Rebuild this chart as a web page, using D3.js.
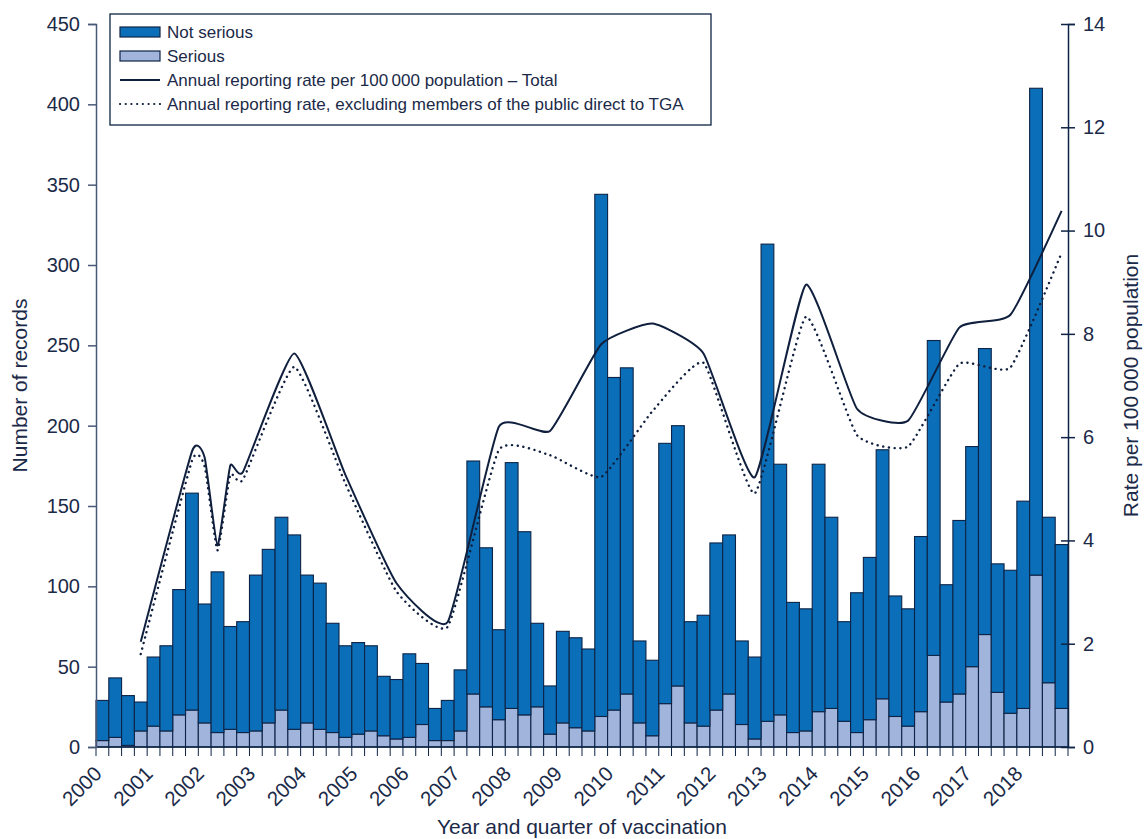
<!DOCTYPE html>
<html>
<head>
<meta charset="utf-8">
<script src="https://cdn.jsdelivr.net/npm/d3@7"></script>
<style>
  body { margin: 0; background: #fff; }
  svg { display: block; font-family: "Liberation Sans", Arial, sans-serif; }
  .axis text { font-size: 20px; fill: #1b2a48; }
  .axis .year-label { font-size: 20.5px; }
  .axis-label { font-size: 21px; fill: #1b2a48; }
  .legend text { font-size: 17px; fill: #1b2a48; }
</style>
</head>
<body>
<div id="chart"></div>
<script>
// Adverse event records by quarter, with annual reporting rates

const years = d3.range(2000, 2019);
const quarters = ['Q1', 'Q2', 'Q3', 'Q4'];
const categories = years.flatMap(y => quarters.map(q => `${y} ${q}`));

// bar series, one value per quarter 2000 Q1 .. 2018 Q4
const serious = [
  4, 6, 1, 10, 13, 10, 20, 23, 15, 9, 11, 9, 10, 15, 23, 11,
  15, 11, 9, 6, 8, 10, 7, 5, 6, 14, 4, 4, 10, 33, 25, 17,
  24, 20, 25, 8, 15, 12, 10, 19, 23, 33, 15, 7, 27, 38, 15, 13,
  23, 33, 14, 5, 16, 20, 9, 10, 22, 24, 16, 9, 17, 30, 19, 13,
  22, 57, 28, 33, 50, 70, 34, 21, 24, 107, 40, 24
];
const notSerious = [
  25, 37, 31, 18, 43, 53, 78, 135, 74, 100, 64, 69, 97, 108, 120, 121,
  92, 91, 68, 57, 57, 53, 37, 37, 52, 38, 20, 25, 38, 145, 99, 56,
  153, 114, 52, 30, 57, 56, 51, 325, 207, 203, 51, 47, 162, 162, 63, 69,
  104, 99, 52, 51, 297, 156, 81, 76, 154, 119, 62, 87, 101, 155, 75, 73,
  109, 196, 73, 108, 137, 178, 80, 89, 129, 303, 103, 102
];

// rate lines (per 100 000 population), points placed at these quarters
const rateQuarters = [
  '2000 Q4', '2001 Q4', '2002 Q1', '2002 Q2', '2002 Q3', '2002 Q4',
  '2003 Q4', '2004 Q4', '2005 Q4', '2006 Q4', '2007 Q4', '2008 Q4',
  '2009 Q4', '2010 Q4', '2011 Q4', '2012 Q4', '2013 Q4', '2014 Q4',
  '2015 Q4', '2016 Q4', '2017 Q4', '2018 Q4'
];
const rateTotal = [
  2.04, 5.72, 5.6, 3.9, 5.45, 5.33, 7.62, 5.27, 3.17, 2.42, 6.2,
  6.12, 7.8, 8.2, 7.62, 5.22, 8.95, 6.55, 6.32, 8.12, 8.37, 10.38
];
const rateExclPublic = [
  1.8, 5.54, 5.43, 3.81, 5.27, 5.18, 7.36, 5.1, 3.01, 2.33, 5.75,
  5.65, 5.23, 6.5, 7.44, 4.91, 8.33, 6.04, 5.82, 7.42, 7.35, 9.57
];

const leftTicks = d3.range(0, 451, 50);
const rightTicks = d3.range(0, 15, 2);

const COLORS = {
  notSerious: '#0a6eb8',
  serious: '#a0b4dc',
  outline: '#0e2446',
  line: '#0f1f3d',
  text: '#1b2a48'
};

const width = 1144, height = 839;
const margin = { top: 24, right: 76, bottom: 92, left: 96 };
const innerWidth = width - margin.left - margin.right;
const innerHeight = height - margin.top - margin.bottom;

const svg = d3.select('#chart').append('svg')
  .attr('width', width)
  .attr('height', height);

const g = svg.append('g')
  .attr('transform', `translate(${margin.left},${margin.top})`);

const x = d3.scaleBand()
  .domain(categories)
  .range([0, innerWidth])
  .padding(0);

const y = d3.scaleLinear().domain([0, 450]).range([innerHeight, 0]);
const yRate = d3.scaleLinear().domain([0, 14]).range([innerHeight, 0]);

// stacked bars
const rows = categories.map((c, i) => ({ cat: c, serious: serious[i], notSerious: notSerious[i] }));
const stack = d3.stack().keys(['serious', 'notSerious'])(rows);

g.selectAll('.layer')
  .data(stack)
  .enter()
  .append('g')
  .attr('class', 'layer')
  .attr('fill', d => COLORS[d.key])
  .selectAll('rect')
  .data(d => d)
  .enter()
  .append('rect')
  .attr('x', d => x(d.data.cat))
  .attr('y', d => y(d[1]))
  .attr('width', x.bandwidth())
  .attr('height', d => y(d[0]) - y(d[1]))
  .attr('stroke', COLORS.outline)
  .attr('stroke-width', 1.1);

// rate lines
const line = d3.line()
  .x(d => x(d.q) + x.bandwidth() / 2)
  .y(d => yRate(d.v))
  .curve(d3.curveCardinal.tension(0.55));

const totalPts = rateQuarters.map((q, i) => ({ q, v: rateTotal[i] }));
const exclPts = rateQuarters.map((q, i) => ({ q, v: rateExclPublic[i] }));

g.append('path')
  .datum(totalPts)
  .attr('fill', 'none')
  .attr('stroke', COLORS.line)
  .attr('stroke-width', 2)
  .attr('d', line);

g.append('path')
  .datum(exclPts)
  .attr('fill', 'none')
  .attr('stroke', COLORS.line)
  .attr('stroke-width', 2.4)
  .attr('stroke-linecap', 'round')
  .attr('stroke-dasharray', '0.1 5.6')
  .attr('d', line);

// x axis: a tick at every quarter boundary
const xAxis = g.append('g')
  .attr('class', 'axis x-axis')
  .attr('transform', `translate(0,${innerHeight})`);

xAxis.append('line')
  .attr('x1', 0).attr('x2', innerWidth)
  .attr('stroke', COLORS.outline).attr('stroke-width', 1.5);

xAxis.selectAll('.qtick')
  .data(categories.concat(['end']))
  .enter()
  .append('line')
  .attr('x1', (d, i) => i * x.step())
  .attr('x2', (d, i) => i * x.step())
  .attr('y1', 0).attr('y2', 9)
  .attr('stroke', COLORS.outline)
  .attr('stroke-width', 1);

xAxis.selectAll('.year-label')
  .data(years)
  .enter()
  .append('text')
  .attr('class', 'year-label')
  .attr('text-anchor', 'end')
  .attr('transform', d => `translate(${x(`${d} Q1`) + 7},${28}) rotate(-45)`)
  .text(d => d);

// left axis
const yAxis = g.append('g')
  .attr('class', 'axis y-axis')
  .call(d3.axisLeft(y).tickValues(leftTicks).tickSize(8).tickPadding(8));
yAxis.selectAll('path, line').attr('stroke', '#4a5878').attr('stroke-width', 1.5);

// right axis, ticks cross the line
const yAxisR = g.append('g')
  .attr('class', 'axis y-axis-right')
  .attr('transform', `translate(${innerWidth},0)`)
  .call(d3.axisRight(yRate).tickValues(rightTicks).tickSize(7).tickPadding(8));
yAxisR.selectAll('path, line').attr('stroke', COLORS.outline).attr('stroke-width', 1.5);
yAxisR.selectAll('.tick line').attr('x1', -7);

// axis labels
g.append('text')
  .attr('class', 'axis-label')
  .attr('transform', 'rotate(-90)')
  .attr('x', -innerHeight / 2)
  .attr('y', -69)
  .attr('text-anchor', 'middle')
  .text('Number of records');

g.append('text')
  .attr('class', 'axis-label')
  .attr('transform', 'rotate(-90)')
  .attr('x', -innerHeight / 2)
  .attr('y', innerWidth + 70)
  .attr('text-anchor', 'middle')
  .text('Rate per 100\u2009000 population');

g.append('text')
  .attr('class', 'axis-label')
  .attr('x', innerWidth / 2)
  .attr('y', innerHeight + 87)
  .attr('text-anchor', 'middle')
  .text('Year and quarter of vaccination');

// legend
const legend = svg.append('g')
  .attr('class', 'legend')
  .attr('transform', 'translate(110,14)');

legend.append('rect')
  .attr('width', 601)
  .attr('height', 111)
  .attr('fill', '#fff')
  .attr('stroke', COLORS.outline)
  .attr('stroke-width', 1.3);

const legendItems = [
  { label: 'Not serious', type: 'box', color: COLORS.notSerious },
  { label: 'Serious', type: 'box', color: COLORS.serious },
  { label: 'Annual reporting rate per 100\u2009000 population \u2013 Total', type: 'solid' },
  { label: 'Annual reporting rate, excluding members of the public direct to TGA', type: 'dotted' }
];

const item = legend.selectAll('.item')
  .data(legendItems)
  .enter()
  .append('g')
  .attr('transform', (d, i) => `translate(10,${18 + i * 24})`);

item.filter(d => d.type === 'box')
  .append('rect')
  .attr('x', 0).attr('y', -5)
  .attr('width', 40).attr('height', 10)
  .attr('fill', d => d.color)
  .attr('stroke', COLORS.outline)
  .attr('stroke-width', 1.2);

item.filter(d => d.type !== 'box')
  .append('line')
  .attr('x1', 0).attr('x2', 40)
  .attr('stroke', COLORS.line)
  .attr('stroke-width', d => d.type === 'solid' ? 2 : 2.2)
  .attr('stroke-linecap', d => d.type === 'solid' ? 'butt' : 'round')
  .attr('stroke-dasharray', d => d.type === 'solid' ? null : '0.1 5.6');

item.append('text')
  .attr('x', 47)
  .attr('dy', '0.35em')
  .text(d => d.label);
</script>
</body>
</html>
